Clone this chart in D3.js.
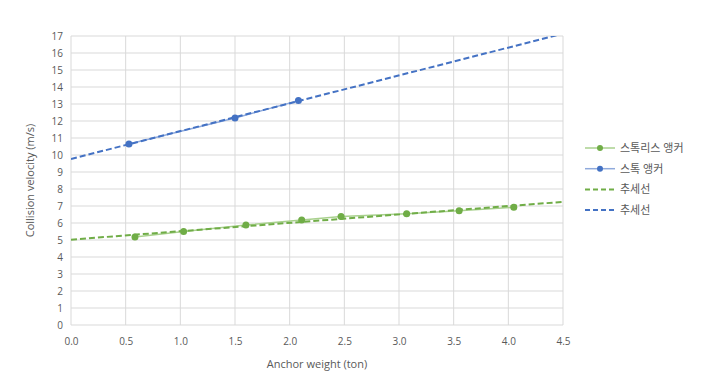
<!DOCTYPE html>
<html>
<head>
<meta charset="utf-8">
<script src="https://cdn.jsdelivr.net/npm/d3@7"></script>
<style>
  body { margin: 0; background: #fff; }
  text { font-family: "Open Sans", "Noto Sans CJK KR", sans-serif; fill: #595959; }
</style>
</head>
<body>
<div id="chart"></div>
<script>
// data
var stocklessX = [0.585, 1.03, 1.6, 2.11, 2.47, 3.07, 3.55, 4.05];
var stocklessY = [5.17, 5.5, 5.88, 6.17, 6.38, 6.55, 6.72, 6.92];
var stockX = [0.53, 1.5, 2.08];
var stockY = [10.65, 12.18, 13.2];
var xTicks = [0, 0.5, 1, 1.5, 2, 2.5, 3, 3.5, 4, 4.5];
var yTicks = d3.range(0, 18);
var legendLabels = ["스톡리스 앵커", "스톡 앵커", "추세선", "추세선"];

var green = "#70AD47", blue = "#4472C4";

var margin = { top: 36, right: 151, bottom: 60, left: 71 },
    width = 714 - margin.left - margin.right,
    height = 385 - margin.top - margin.bottom;

var svg = d3.select("#chart")
    .append("svg")
    .attr("width", 714)
    .attr("height", 385)
    .append("g")
    .attr("transform", "translate(" + margin.left + "," + margin.top + ")");

var x = d3.scaleLinear().domain([0, 4.5]).range([0, width]);
var y = d3.scaleLinear().domain([0, 17]).range([height, 0]);

// gridlines
svg.append("g").selectAll("line.h")
    .data(yTicks).enter().append("line")
    .attr("x1", 0).attr("x2", width)
    .attr("y1", d => y(d)).attr("y2", d => y(d))
    .attr("stroke", "#d9d9d9").attr("stroke-width", 1);
svg.append("g").selectAll("line.v")
    .data(xTicks).enter().append("line")
    .attr("x1", d => x(d)).attr("x2", d => x(d))
    .attr("y1", 0).attr("y2", height)
    .attr("stroke", "#d9d9d9").attr("stroke-width", 1);

// axes (labels only)
var xAxis = svg.append("g")
    .attr("transform", "translate(0," + height + ")")
    .call(d3.axisBottom(x).tickValues(xTicks).tickFormat(d3.format(".1f")).tickSize(0).tickPadding(13));
xAxis.select(".domain").remove();
xAxis.selectAll("text").style("font-size", "10px").style("fill", "#595959");

var yAxis = svg.append("g")
    .call(d3.axisLeft(y).tickValues(yTicks).tickSize(0).tickPadding(8));
yAxis.select(".domain").remove();
yAxis.selectAll("text").style("font-size", "10px").style("fill", "#595959");

// axis titles
svg.append("text")
    .attr("x", width / 2).attr("y", height + 43)
    .attr("text-anchor", "middle")
    .style("font-size", "11px")
    .text("Anchor weight (ton)");
svg.append("text")
    .attr("transform", "translate(-37," + (height / 2) + ") rotate(-90)")
    .attr("text-anchor", "middle")
    .style("font-size", "11px")
    .text("Collision velocity (m/s)");

// linear trend (least squares) like the spreadsheet's trendline
function fit(xs, ys) {
    var mx = d3.mean(xs), my = d3.mean(ys);
    var num = d3.sum(xs, (v, i) => (v - mx) * (ys[i] - my));
    var den = d3.sum(xs, v => (v - mx) * (v - mx));
    var b = num / den;
    return { a: my - b * mx, b: b };
}

svg.append("clipPath").attr("id", "clip")
    .append("rect").attr("width", width).attr("height", height);

var line = d3.line().x(d => x(d[0])).y(d => y(d[1]));

function drawSeries(xs, ys, col, lightCol) {
    var pts = xs.map((v, i) => [v, ys[i]]);
    var t = fit(xs, ys);
    svg.append("path")
        .datum(pts)
        .attr("d", line)
        .attr("fill", "none")
        .attr("stroke", lightCol)
        .attr("stroke-width", 1.5);
    svg.append("g").selectAll("circle")
        .data(pts).enter().append("circle")
        .attr("cx", d => x(d[0]))
        .attr("cy", d => y(d[1]))
        .attr("r", 3.5)
        .attr("fill", col);
    svg.append("path")
        .datum([[0, t.a], [4.5, t.a + t.b * 4.5]])
        .attr("d", line)
        .attr("clip-path", "url(#clip)")
        .attr("fill", "none")
        .attr("stroke", col)
        .attr("stroke-width", 2)
        .attr("stroke-dasharray", "6,3");
}

drawSeries(stocklessX, stocklessY, green, "#A9D18E");
drawSeries(stockX, stockY, blue, "#8FAADC");

// legend
var legend = svg.append("g").attr("transform", "translate(" + (width + 22) + ",112)");
var legendStyle = [
    { col: "#A9D18E", dot: green, dash: null },
    { col: "#8FAADC", dot: blue, dash: null },
    { col: green, dot: null, dash: "5,3" },
    { col: blue, dot: null, dash: "5,3" }
];
legendLabels.forEach(function (lab, i) {
    var g = legend.append("g").attr("transform", "translate(0," + (i * 20.7) + ")");
    g.append("line")
        .attr("x1", 0).attr("x2", 30).attr("y1", 0).attr("y2", 0)
        .attr("stroke", legendStyle[i].col)
        .attr("stroke-width", legendStyle[i].dash ? 2 : 1.5)
        .attr("stroke-dasharray", legendStyle[i].dash);
    if (legendStyle[i].dot) {
        g.append("circle").attr("cx", 15).attr("cy", 0).attr("r", 3).attr("fill", legendStyle[i].dot);
    }
    g.append("text")
        .attr("x", 35).attr("y", 0).attr("dy", "0.35em")
        .style("font-size", "11px")
        .text(lab);
});
</script>
</body>
</html>
